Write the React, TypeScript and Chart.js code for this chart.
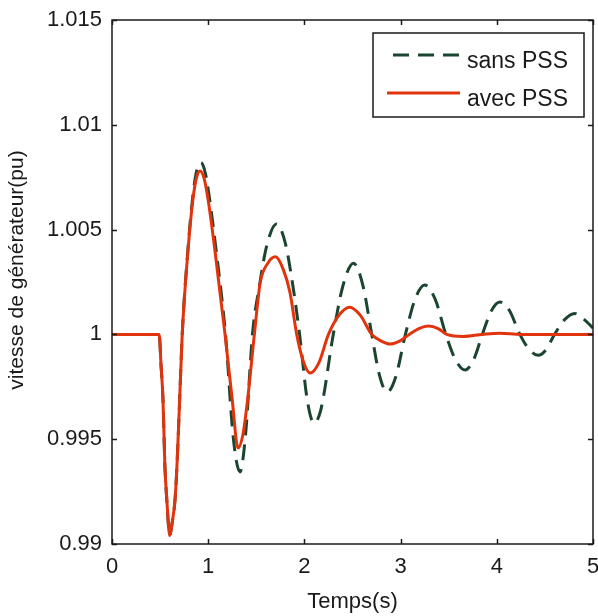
import React, { useEffect, useRef } from "react";
import { Chart, registerables } from "chart.js";

Chart.register(...registerables);

const SERIES_LABELS = ["sans PSS", "avec PSS"];
const SERIES_COLORS = ["#1b4530", "#e2340c"];

const X_TICKS = [0, 1, 2, 3, 4, 5];
const X_TICK_LABELS = ["0", "1", "2", "3", "4", "5"];
const Y_TICKS = [0.99, 0.995, 1, 1.005, 1.01, 1.015];
const Y_TICK_LABELS = ["0.99", "0.995", "1", "1.005", "1.01", "1.015"];
const X_TITLE = "Temps(s)";
const Y_TITLE = "vitesse de générateur(pu)";

// sans PSS (dashed dark green)
const T_SANS = [
  0, 0.49, 0.51, 0.53, 0.55, 0.57, 0.6, 0.625, 0.655, 0.675, 0.7, 0.73, 0.79, 0.84, 0.88, 0.925,
  0.97, 1.01, 1.08, 1.18, 1.26, 1.33, 1.39, 1.46, 1.53, 1.61, 1.71, 1.8, 1.88, 1.95, 2.03, 2.1,
  2.17, 2.3, 2.4, 2.51, 2.61, 2.7, 2.78, 2.86, 2.95, 3.05, 3.15, 3.25, 3.36, 3.47, 3.57, 3.67,
  3.76, 3.85, 3.94, 4.03, 4.13, 4.24, 4.33, 4.43, 4.51, 4.6, 4.7, 4.81, 4.9, 5.0,
];
const V_SANS = [
  1.0, 1.0, 0.9985, 0.9969, 0.9937, 0.9921, 0.9904, 0.991, 0.9921, 0.9937, 0.9965, 1.0, 1.0041,
  1.0066, 1.0078, 1.0082, 1.0077, 1.0066, 1.0041, 1.0, 0.9951, 0.99344, 0.9953, 1.0, 1.00225,
  1.00426, 1.00527, 1.00438, 1.00233, 1.0, 0.99686, 0.99577, 0.99639, 1.0, 1.00231, 1.0034,
  1.0023, 1.0, 0.99806, 0.99725, 0.99798, 1.0, 1.00167, 1.00236, 1.00167, 1.0, 0.9988, 0.9983,
  0.9988, 1.0, 1.0011, 1.00155, 1.00115, 1.0, 0.99932, 0.999, 0.99926, 1.0, 1.00068, 1.001,
  1.00075, 1.0003,
];

// avec PSS (solid red)
const T_AVEC = [
  0, 0.49, 0.51, 0.53, 0.55, 0.57, 0.6, 0.625, 0.655, 0.675, 0.7, 0.73, 0.79, 0.84, 0.88, 0.915,
  0.96, 1.0, 1.07, 1.175, 1.25, 1.31, 1.36, 1.41, 1.48, 1.54, 1.62, 1.7, 1.78, 1.85, 1.92, 1.99,
  2.06, 2.15, 2.25, 2.36, 2.47, 2.58, 2.7, 2.8, 2.89, 2.99, 3.09, 3.19, 3.29, 3.39, 3.48, 3.65,
  3.85, 4.03, 4.25, 4.6, 5.0,
];
const V_AVEC = [
  1.0, 1.0, 0.9985, 0.9969, 0.9937, 0.9921, 0.9904, 0.991, 0.9921, 0.9937, 0.9965, 1.0, 1.004,
  1.0064, 1.0075, 1.0078, 1.0074, 1.0064, 1.004, 1.0, 0.99687, 0.99458, 0.9952, 0.9969, 1.0,
  1.00245, 1.0034, 1.0037, 1.0031, 1.002, 1.0, 0.9987, 0.99816, 0.99864, 1.0, 1.00092, 1.0013,
  1.00092, 1.0, 0.99968, 0.99954, 0.99968, 1.0, 1.00028, 1.0004, 1.00028, 1.0, 0.9999, 1.0,
  1.00006, 1.0, 1.0, 1.0,
];

const FONT = "'Liberation Sans', Arial, Helvetica, sans-serif";
const INK = "#1a1a1a";

const framePlugin = {
  id: "matlabFrame",
  afterDraw(chart: any) {
    const { ctx, chartArea: a, scales } = chart;
    ctx.save();
    ctx.strokeStyle = INK;
    ctx.lineWidth = 1.5;
    ctx.strokeRect(a.left, a.top, a.right - a.left, a.bottom - a.top);
    const tl = 5;
    ctx.beginPath();
    X_TICKS.forEach((v) => {
      const x = Math.round(scales.x.getPixelForValue(v)) + 0.5;
      ctx.moveTo(x, a.bottom);
      ctx.lineTo(x, a.bottom - tl);
      ctx.moveTo(x, a.top);
      ctx.lineTo(x, a.top + tl);
    });
    Y_TICKS.forEach((v) => {
      const y = Math.round(scales.y.getPixelForValue(v)) + 0.5;
      ctx.moveTo(a.left, y);
      ctx.lineTo(a.left + tl, y);
      ctx.moveTo(a.right, y);
      ctx.lineTo(a.right - tl, y);
    });
    ctx.stroke();

    // y axis title
    ctx.save();
    ctx.translate(17, a.top + 250);
    ctx.rotate(-Math.PI / 2);
    ctx.fillStyle = INK;
    ctx.font = `21px ${FONT}`;
    ctx.textAlign = "center";
    ctx.textBaseline = "middle";
    ctx.fillText(Y_TITLE, 0, 0);
    ctx.restore();

    // legend box
    const bx = a.right - 220;
    const by = a.top + 13;
    const bw = 211;
    const bh = 84;
    ctx.fillStyle = "#ffffff";
    ctx.fillRect(bx, by, bw, bh);
    ctx.lineWidth = 1.5;
    ctx.strokeStyle = INK;
    ctx.strokeRect(bx, by, bw, bh);

    ctx.lineWidth = 3;
    ctx.strokeStyle = SERIES_COLORS[0];
    ctx.setLineDash([16, 9]);
    ctx.beginPath();
    ctx.moveTo(bx + 20, by + 22);
    ctx.lineTo(bx + 87, by + 22);
    ctx.stroke();
    ctx.setLineDash([]);
    ctx.strokeStyle = SERIES_COLORS[1];
    ctx.beginPath();
    ctx.moveTo(bx + 14, by + 60);
    ctx.lineTo(bx + 87, by + 60);
    ctx.stroke();

    ctx.fillStyle = INK;
    ctx.font = `23px ${FONT}`;
    ctx.textAlign = "left";
    ctx.textBaseline = "alphabetic";
    ctx.fillText(SERIES_LABELS[0], bx + 94, by + 35);
    ctx.fillText(SERIES_LABELS[1], bx + 94, by + 73);
    ctx.restore();
  },
};

function labelFor(ticks: number[], labels: string[], value: number) {
  const i = ticks.findIndex((t) => Math.abs(t - value) < 1e-9);
  return i >= 0 ? labels[i] : "";
}

export default function App() {
  const canvasRef = useRef<HTMLCanvasElement | null>(null);

  useEffect(() => {
    if (!canvasRef.current) return;
    const chart = new Chart(canvasRef.current, {
      type: "line",
      data: {
        datasets: [
          {
            label: SERIES_LABELS[0],
            data: T_SANS.map((t, i) => ({ x: t, y: V_SANS[i] })),
            borderColor: SERIES_COLORS[0],
            backgroundColor: SERIES_COLORS[0],
            borderWidth: 3,
            borderDash: [16, 9],
            pointRadius: 0,
            cubicInterpolationMode: "monotone",
            fill: false,
            order: 2,
          },
          {
            label: SERIES_LABELS[1],
            data: T_AVEC.map((t, i) => ({ x: t, y: V_AVEC[i] })),
            borderColor: SERIES_COLORS[1],
            backgroundColor: SERIES_COLORS[1],
            borderWidth: 3,
            pointRadius: 0,
            cubicInterpolationMode: "monotone",
            fill: false,
            order: 1,
          },
        ],
      },
      options: {
        animation: false,
        responsive: true,
        maintainAspectRatio: false,
        layout: { padding: { left: 0, right: 5, top: 20, bottom: 0 } },
        plugins: {
          legend: { display: false },
          tooltip: { enabled: false },
        },
        scales: {
          x: {
            type: "linear",
            min: 0,
            max: 5,
            grid: { display: false, drawTicks: false },
            border: { display: false },
            afterBuildTicks: (scale: any) => {
              scale.ticks = X_TICKS.map((v) => ({ value: v }));
            },
            afterFit: (scale: any) => {
              scale.height = 72;
              scale.paddingLeft = 0;
              scale.paddingRight = 0;
            },
            ticks: {
              color: INK,
              padding: 10,
              maxRotation: 0,
              autoSkip: false,
              font: { size: 22, family: FONT },
              callback: (v: any) => labelFor(X_TICKS, X_TICK_LABELS, Number(v)),
            },
            title: {
              display: true,
              text: X_TITLE,
              color: INK,
              padding: { top: 0, bottom: 1 },
              font: { size: 22, family: FONT },
            },
          },
          y: {
            type: "linear",
            min: 0.99,
            max: 1.015,
            grid: { display: false, drawTicks: false },
            border: { display: false },
            afterBuildTicks: (scale: any) => {
              scale.ticks = Y_TICKS.map((v) => ({ value: v }));
            },
            afterFit: (scale: any) => {
              scale.width = 112;
              scale.paddingTop = 0;
              scale.paddingBottom = 0;
            },
            ticks: {
              color: INK,
              padding: 10,
              autoSkip: false,
              font: { size: 22, family: FONT },
              callback: (v: any) => labelFor(Y_TICKS, Y_TICK_LABELS, Number(v)),
            },
            title: { display: false },
          },
        },
      },
      plugins: [framePlugin],
    });
    return () => chart.destroy();
  }, []);

  return (
    <div
      style={{
        position: "absolute",
        left: 0,
        top: 0,
        width: 598,
        height: 616,
        background: "#ffffff",
      }}
    >
      <canvas ref={canvasRef} />
    </div>
  );
}
